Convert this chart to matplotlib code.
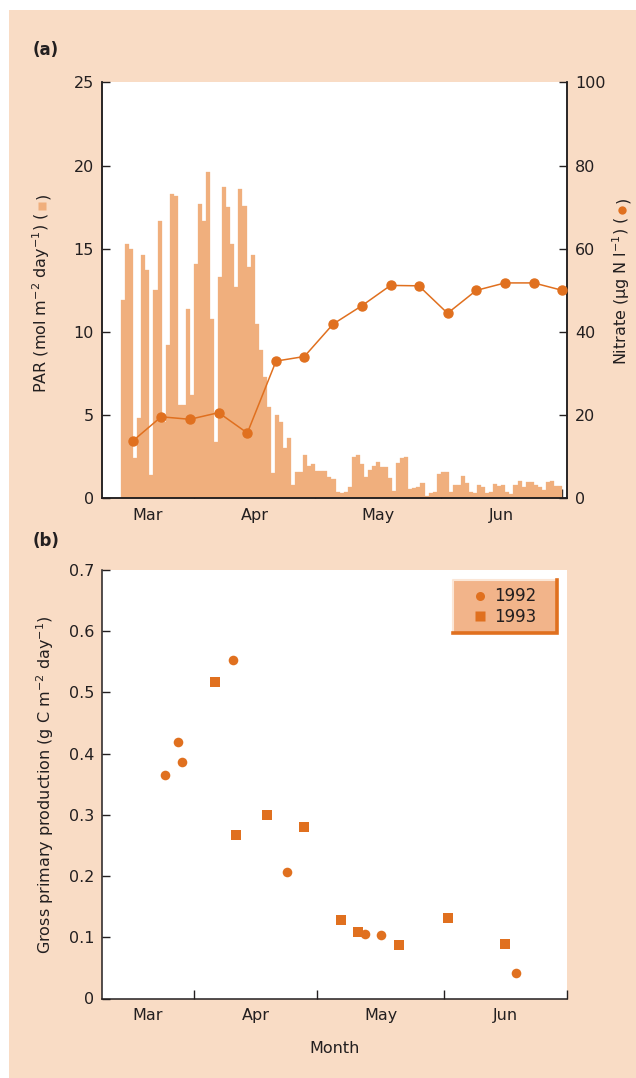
import matplotlib
matplotlib.use("Agg")
import matplotlib.pyplot as plt
from matplotlib.patches import Rectangle
from matplotlib.lines import Line2D
from matplotlib.ticker import FixedLocator, NullFormatter, FixedFormatter

plt.rcParams["font.family"] = ["DejaVu Sans"]
plt.rcParams["mathtext.fontset"] = "dejavusans"

# ---------------- data (days counted from 1 March) ----------------
par_first_day = 13
par = [11.9, 15.3, 15.0, 2.4, 4.8, 14.6, 13.7, 1.4, 12.5, 16.7,
       4.6, 9.2, 18.3, 18.2, 5.6, 5.6, 11.4, 6.2, 14.1, 17.7,
       16.7, 19.6, 10.8, 3.4, 13.3, 18.7, 17.5, 15.3, 12.7, 18.6,
       17.6, 13.9, 14.6, 10.5, 8.9, 7.3, 5.5, 1.5, 5.0, 4.6,
       3.0, 3.6, 0.8, 1.6,
       1.56, 2.61, 1.94, 2.06, 1.64, 1.64, 1.64, 1.26, 1.18, 0.36,
       0.30, 0.38, 0.66, 2.50, 2.60, 2.06, 1.30, 1.70, 1.96, 2.21,
       1.86, 1.86, 1.25, 0.46, 2.14, 2.40, 2.46, 0.54, 0.60, 0.70,
       0.90, 0.16, 0.30, 0.36, 1.46, 1.56, 1.60, 0.36, 0.80, 0.80,
       1.36, 0.94, 0.36, 0.34, 0.80, 0.70, 0.30, 0.38, 0.86, 0.76,
       0.80, 0.36, 0.28, 0.80, 1.06, 0.70, 0.98, 0.98, 0.80, 0.70,
       0.50, 0.98, 1.02, 0.76, 0.76]
par_days = [par_first_day + i for i in range(len(par))]

nitrate_days = [15.9, 22.9, 30.0, 37.1, 44.2, 51.3, 58.3, 65.4,
                72.5, 79.6, 86.6, 93.7, 100.8, 107.9, 115.0, 122.1]
nitrate = [13.8, 19.6, 19.0, 20.6, 15.7, 33.0, 34.1, 41.9,
           46.3, 51.2, 51.1, 44.5, 50.0, 51.8, 51.8, 50.0]

gpp1992_days = [24.0, 27.0, 28.0, 40.5, 53.7, 72.8, 76.5, 109.5]
gpp1992 = [0.365, 0.419, 0.386, 0.553, 0.206, 0.106, 0.103, 0.041]
gpp1993_days = [36.2, 41.3, 48.7, 57.9, 66.8, 71.0, 80.9, 93.0, 106.8]
gpp1993 = [0.517, 0.267, 0.300, 0.280, 0.128, 0.109, 0.087, 0.131, 0.089]

month_starts = [31, 61, 92, 122]
month_names = ["Mar", "Apr", "May", "Jun"]

# ---------------- style ----------------
PEACH = "#F9DCC5"
BAR = "#F0AF7D"
ORANGE = "#E0701F"
DARK = "#231F20"
LEG_FILL = "#F2B48A"
FS = 11.5

W, H = 636, 1078
fig = plt.figure(figsize=(W / 100, H / 100), dpi=100)
fig.patch.set_facecolor("white")
fig.add_artist(Rectangle((9 / W, 0), 1 - 9 / W, 1 - 10 / H,
                         transform=fig.transFigure, facecolor=PEACH,
                         edgecolor="none", zorder=-10))


def px_axes(x0, y0, x1, y1):
    return fig.add_axes([x0 / W, 1 - y1 / H, (x1 - x0) / W, (y1 - y0) / H])


def month_axis(ax, xlim):
    ax.set_xlim(*xlim)
    ax.xaxis.set_major_locator(FixedLocator(month_starts))
    ax.xaxis.set_major_formatter(NullFormatter())
    edges = [xlim[0]] + month_starts
    mids = [(a + b) / 2 for a, b in zip(edges[:-1], edges[1:])]
    ax.xaxis.set_minor_locator(FixedLocator(mids))
    ax.xaxis.set_minor_formatter(FixedFormatter(month_names))
    ax.tick_params(axis="x", which="major", direction="in", length=6.5,
                   width=1.0, color=DARK)
    ax.tick_params(axis="x", which="minor", length=0, pad=7,
                   labelsize=FS, labelcolor=DARK)


def style_spines(ax, visible):
    for side, sp in ax.spines.items():
        sp.set_visible(side in visible)
        sp.set_color(DARK)
        sp.set_linewidth(1.1)


# ---------------- panel (a) ----------------
ax1 = px_axes(101.7, 82.5, 567.3, 498.3)
ax1.bar(par_days, par, width=1.0, align="edge", color=BAR,
        edgecolor=BAR, linewidth=0.2, zorder=2)
ax1.set_ylim(0, 25)
ax1.set_yticks(range(0, 26, 5))
month_axis(ax1, (8.2, 123.3))
ax1.tick_params(axis="y", direction="in", length=6, width=1.0, pad=5.5,
                labelsize=FS, color=DARK, labelcolor=DARK)
style_spines(ax1, ("left", "bottom", "right"))

ax2 = ax1.twinx()
ax2.plot(nitrate_days, nitrate, "-o", color=ORANGE, lw=1.1, ms=6.5,
         clip_on=False, zorder=3)
ax2.set_ylim(0, 100)
ax2.set_yticks(range(0, 101, 20))
ax2.tick_params(axis="y", direction="in", length=6, width=1.0, pad=5.5,
                labelsize=FS, color=DARK, labelcolor=DARK)
style_spines(ax2, ("left", "bottom", "right"))

fig.text(33 / W, 1 - 50 / H, "(a)", fontsize=12, fontweight="bold",
         color=DARK, ha="left", va="center")

renderer = fig.canvas.get_renderer()


def vertical_label(x_base, y_center, before, after, marker, mcolor, msize):
    """Rotated label built from text + coloured symbol + text."""
    gap = 13
    pieces = []
    lens = []
    for s in (before, after):
        t = fig.text(0, 0, s, rotation=90, rotation_mode="anchor",
                     ha="left", va="baseline", fontsize=FS, color=DARK)
        pieces.append(t)
        lens.append(t.get_window_extent(renderer).height)
    total = lens[0] + gap + lens[1]
    y_start = (H - y_center) - total / 2
    pieces[0].set_position((x_base / W, y_start / H))
    pieces[1].set_position((x_base / W, (y_start + lens[0] + gap) / H))
    ym = y_start + lens[0] + gap / 2
    fig.add_artist(Line2D([(x_base - 5.5) / W], [ym / H], marker=marker,
                          ms=msize, color=mcolor, mec="none",
                          transform=fig.transFigure))


vertical_label(47, 293, r"PAR (mol m$^{-2}$ day$^{-1}$) (", ")", "s", BAR, 5.5)
vertical_label(627, 281, "Nitrate (\u00b5g N l$^{-1}$) (", ")", "o", ORANGE, 6)

# ---------------- panel (b) ----------------
ax3 = px_axes(101.7, 570, 567.3, 998.5)
ax3.scatter(gpp1992_days, gpp1992, marker="o", s=48, color=ORANGE,
            linewidths=0, zorder=3)
ax3.scatter(gpp1993_days, gpp1993, marker="s", s=48, color=ORANGE,
            linewidths=0, zorder=3)
ax3.set_ylim(0, 0.7)
yt = [0, 0.1, 0.2, 0.3, 0.4, 0.5, 0.6, 0.7]
ax3.set_yticks(yt)
ax3.set_yticklabels(["0"] + [f"{v:.1f}" for v in yt[1:]])
month_axis(ax3, (8.5, 122))
ax3.tick_params(axis="y", direction="in", length=6, width=1.0, pad=5.5,
                labelsize=FS, color=DARK, labelcolor=DARK)
style_spines(ax3, ("left", "bottom"))

fig.text(33 / W, 1 - 541 / H, "(b)", fontsize=12, fontweight="bold",
         color=DARK, ha="left", va="center")
fig.text(51 / W, 1 - 785 / H,
         r"Gross primary production (g C m$^{-2}$ day$^{-1}$)",
         rotation=90, rotation_mode="anchor", ha="center", va="baseline",
         fontsize=FS, color=DARK)
fig.text(334.5 / W, 1 - 1053 / H, "Month", ha="center", va="baseline",
         fontsize=FS, color=DARK)

# legend box with bevelled edges
lx0, lx1, ly0, ly1 = 0.755, 0.977, 0.852, 0.977
ax3.add_patch(Rectangle((lx0, ly0), lx1 - lx0, ly1 - ly0,
                        transform=ax3.transAxes, facecolor=LEG_FILL,
                        edgecolor="none", zorder=4, clip_on=False))
ax3.add_line(Line2D([lx0, lx0, lx1], [ly0, ly1, ly1], transform=ax3.transAxes,
                    color="#FBE6D6", lw=1.5, zorder=5, clip_on=False))
ax3.add_line(Line2D([lx0, lx1, lx1], [ly0, ly0, ly1], transform=ax3.transAxes,
                    color=ORANGE, lw=2.6, zorder=5, clip_on=False,
                    solid_joinstyle="miter"))
handles = [Line2D([], [], ls="none", marker="o", ms=6.5, color=ORANGE, mec="none"),
           Line2D([], [], ls="none", marker="s", ms=6.5, color=ORANGE, mec="none")]
leg = ax3.legend(handles, ["1992", "1993"], loc="center",
                 bbox_to_anchor=(lx0, ly0, lx1 - lx0, ly1 - ly0),
                 bbox_transform=ax3.transAxes, frameon=False,
                 fontsize=12, handlelength=0.8, handletextpad=0.4,
                 labelspacing=0.15, borderpad=0.2)
leg.set_zorder(6)
for t in leg.get_texts():
    t.set_color(DARK)

fig.savefig("out.png", dpi=100, facecolor="white")
